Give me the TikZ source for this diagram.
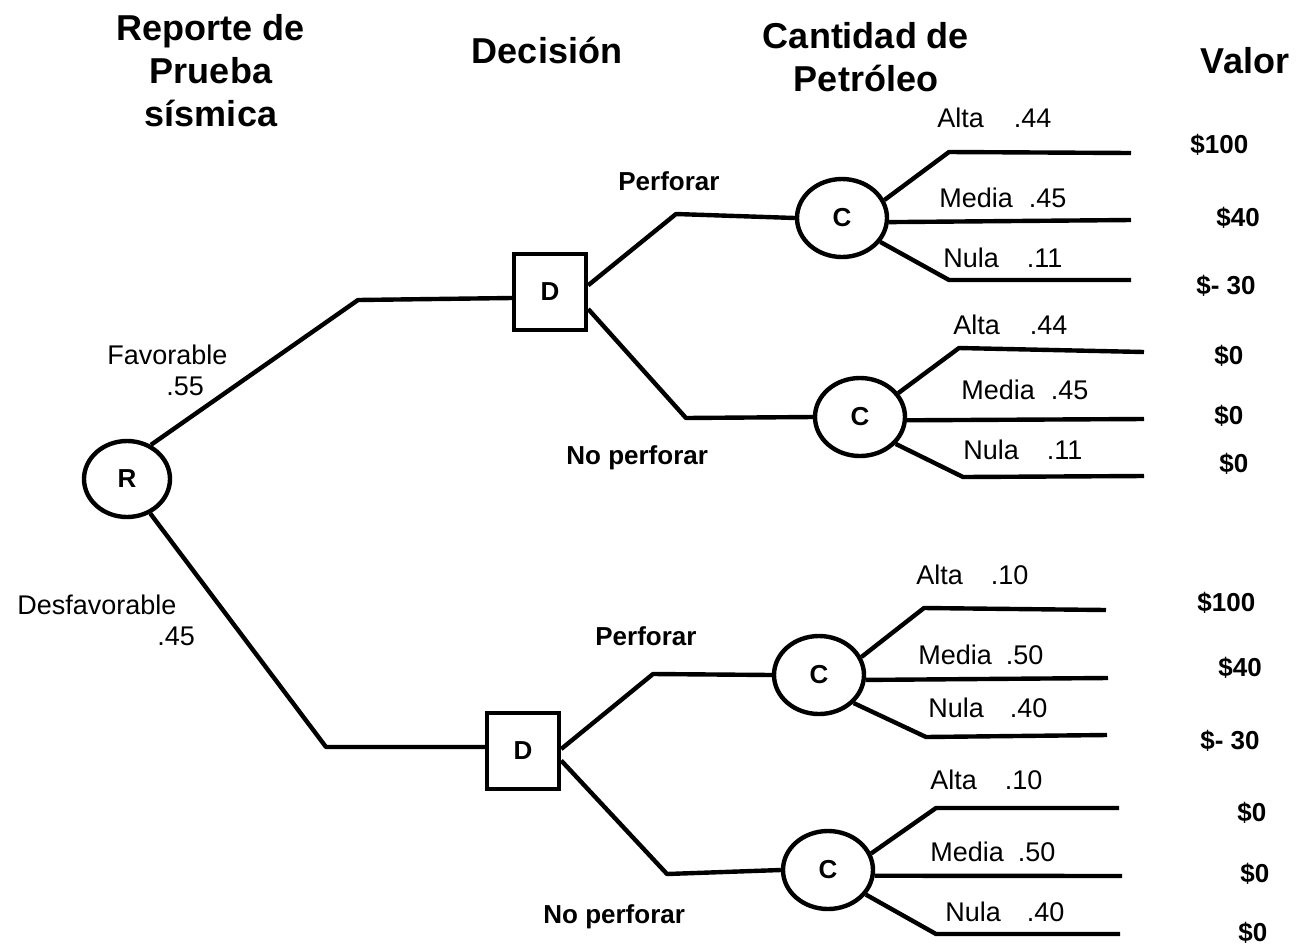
\documentclass[tikz,border=0pt]{standalone}
\usepackage{fontspec}
\setmainfont{Liberation Sans}
\usetikzlibrary{shapes.geometric}
\begin{document}
\begin{tikzpicture}[x=0.5pt,y=-0.5pt,
  conn/.style={line width=2.2pt, line join=round},
  chance/.style={ellipse, draw, line width=2.2pt, minimum width=45pt, minimum height=39pt, inner sep=0pt, font=\bfseries\fontsize{13}{15}\selectfont},
  decision/.style={rectangle, draw, line width=2.2pt, minimum width=36pt, minimum height=38pt, inner sep=0pt, font=\bfseries\fontsize{13}{15}\selectfont},
  head/.style={font=\bfseries\fontsize{18}{21.5}\selectfont, align=center, inner sep=0pt},
  lbl/.style={font=\fontsize{13.5}{15.5}\selectfont, inner sep=0pt, anchor=base west},
  val/.style={font=\bfseries\fontsize{13}{15}\selectfont, inner sep=0pt, anchor=base west},
  act/.style={font=\bfseries\fontsize{13}{15}\selectfont, inner sep=0pt, anchor=base west}
]
\useasboundingbox (0,0) rectangle (1298,944);

% headings
\node[head, anchor=north] (h1) at (211,14) {Reporte de\\Prueba\\sísmica};
\node[head, anchor=base] (h2) at (547,63) {Decisión};
\node[head, anchor=north] (h3) at (866,22) {Cantidad de\\Petróleo};
\node[head, anchor=base] (h4) at (1245,73) {Valor};

% nodes
\node[chance, minimum width=43pt, minimum height=38pt] (R) at (127,479) {R};
\node[decision] (D1) at (550,292) {D};
\node[decision] (D2) at (523,751) {D};
\node[chance] (C1) at (842,218) {C};
\node[chance] (C2) at (860,417) {C};
\node[chance] (C3) at (819,675) {C};
\node[chance] (C4) at (828,870) {C};

% elbows and ends
\coordinate (e1) at (358,300);
\coordinate (e2) at (326,747);
\coordinate (p1) at (676,214);
\coordinate (n1) at (686,418);
\coordinate (p2) at (653,674);
\coordinate (n2) at (667,874);
\coordinate (a1) at (949,152); \coordinate (a1e) at (1131,153);
\coordinate (m1e) at (1131,220);
\coordinate (l1) at (949,280); \coordinate (l1e) at (1131,280);
\coordinate (a2) at (959,348); \coordinate (a2e) at (1144,352);
\coordinate (m2e) at (1144,419);
\coordinate (l2) at (963,477); \coordinate (l2e) at (1144,476);
\coordinate (a3) at (924,608); \coordinate (a3e) at (1106,610);
\coordinate (m3e) at (1108,678);
\coordinate (l3) at (926,737); \coordinate (l3e) at (1107,735);
\coordinate (a4) at (936,808); \coordinate (a4e) at (1119,808);
\coordinate (m4e) at (1122,876);
\coordinate (l4) at (936,934); \coordinate (l4e) at (1120,934);

% connectors
\draw[conn] (R.55) -- (e1) -- ([yshift=-3pt]D1.west);
\draw[conn] (R.-56) -- (e2) -- ([yshift=2pt]D2.west);
\draw[conn] (D1.10) -- (p1) -- (C1.west);
\draw[conn] (D1.-24) -- (n1) -- (C2.west);
\draw[conn] ([yshift=1pt]D2.east) -- (p2) -- (C3.west);
\draw[conn] (D2.-14) -- (n2) -- (C4.west);

\draw[conn] (C1.23) -- (a1) -- (a1e);
\draw[conn] (C1.-5) -- (m1e);
\draw[conn] (C1.-32) -- (l1) -- (l1e);
\draw[conn] (C2.32) -- (a2) -- (a2e);
\draw[conn] (C2.-4) -- (m2e);
\draw[conn] (C2.-37) -- (l2) -- (l2e);
\draw[conn] (C3.23) -- (a3) -- (a3e);
\draw[conn] (C3.-6) -- (m3e);
\draw[conn] (C3.-39) -- (l3) -- (l3e);
\draw[conn] (C4.21) -- (a4) -- (a4e);
\draw[conn] (C4.-7) -- (m4e);
\draw[conn] (C4.-33) -- (l4) -- (l4e);

% report labels
\node[lbl, anchor=north west, align=left] (fav) at (107,345) {Favorable\\\hspace*{29.5pt}.55};
\node[lbl, anchor=north west, align=left] (des) at (17,595) {Desfavorable\\\hspace*{70pt}.45};

% action labels
\node[act] (pf1) at (618,190) {Perforar};
\node[act] (np1) at (566,464) {No perforar};
\node[act] (pf2) at (595,645) {Perforar};
\node[act] (np2) at (543,923) {No perforar};

% outcome labels
\node[lbl] (t1a) at (937,127) {Alta\hspace{15pt}.44};
\node[lbl] (t1m) at (939,207) {Media\hspace{8pt}.45};
\node[lbl] (t1n) at (943,267) {Nula\hspace{14pt}.11};
\node[lbl] (t2a) at (953,334) {Alta\hspace{15pt}.44};
\node[lbl] (t2m) at (961,399) {Media\hspace{8pt}.45};
\node[lbl] (t2n) at (963,459) {Nula\hspace{14pt}.11};
\node[lbl] (t3a) at (916,584) {Alta\hspace{14pt}.10};
\node[lbl] (t3m) at (918,664) {Media\hspace{7pt}.50};
\node[lbl] (t3n) at (928,717) {Nula\hspace{13pt}.40};
\node[lbl] (t4a) at (930,789) {Alta\hspace{14pt}.10};
\node[lbl] (t4m) at (930,861) {Media\hspace{7pt}.50};
\node[lbl] (t4n) at (945,921) {Nula\hspace{13pt}.40};

% values
\node[val] (v1) at (1190,153) {\$100};
\node[val] (v2) at (1216,226) {\$40};
\node[val] (v3) at (1196,294) {\$- 30};
\node[val] (v4) at (1214,364) {\$0};
\node[val] (v5) at (1214,424) {\$0};
\node[val] (v6) at (1219,472) {\$0};
\node[val] (v7) at (1197,611) {\$100};
\node[val] (v8) at (1218,676) {\$40};
\node[val] (v9) at (1200,749) {\$- 30};
\node[val] (v10) at (1237,821) {\$0};
\node[val] (v11) at (1240,882) {\$0};
\node[val] (v12) at (1238,941) {\$0};
\end{tikzpicture}
\end{document}
